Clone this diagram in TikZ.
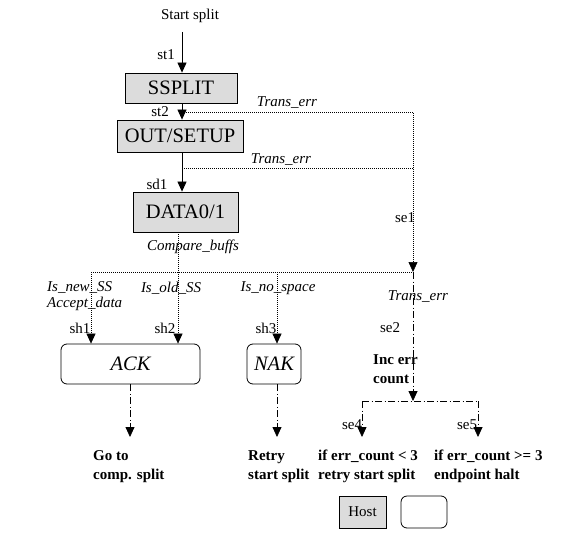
\documentclass[tikz,border=0pt]{standalone}
\usepackage{fontspec}
\setmainfont{Liberation Serif}
\usetikzlibrary{arrows.meta}
\definecolor{boxgray}{RGB}{220,220,220}
\begin{document}
\begin{tikzpicture}[x=1pt,y=-1pt,
 lab/.style={font=\fontsize{15}{19}\selectfont, inner sep=0pt},
 ilab/.style={inner sep=0pt, font=\fontsize{15}{16}\selectfont\itshape},
 blab/.style={inner sep=0pt, font=\fontsize{15}{19}\selectfont\bfseries, align=left},
 sbox/.style={draw, fill=boxgray, line width=0.8pt, font=\fontsize{20.5}{24}\selectfont, inner sep=0pt},
 rbox/.style={draw, rounded corners=6pt, line width=0.8pt, font=\fontsize{20.5}{24}\selectfont\itshape, inner sep=0pt},
 tip/.style={-{Triangle[width=9pt,length=10pt]}},
 solidl/.style={line width=0.8pt},
 dotl/.style={line width=0.6pt, dash pattern=on 0.8pt off 1.2pt},
 dashdot/.style={line width=0.8pt, dash pattern=on 7pt off 2.5pt on 1pt off 2.5pt},
]
\useasboundingbox (0,0) rectangle (577,534);

% nodes
\node[lab] (start) at (190,16) {Start split};
\node[sbox, minimum width=112pt, minimum height=30pt] (ssplit) at (181,88) {SSPLIT};
\node[sbox, minimum width=126pt, minimum height=32pt] (out) at (180,136) {OUT/SETUP};
\node[sbox, minimum width=105pt, minimum height=40pt] (data) at (185.5,212) {DATA0/1};
\node[rbox, minimum width=139pt, minimum height=40pt] (ack) at (130.5,364) {ACK};
\node[rbox, minimum width=54pt, minimum height=40pt] (nak) at (274,364) {NAK};

% coordinates
\coordinate (cx) at (182,0);
\coordinate (t1) at (182,112);
\coordinate (t2) at (182,168);
\coordinate (e1) at (413,112);
\coordinate (e2) at (413,168);
\coordinate (j) at (413,272);
\coordinate (h1) at (91,272);
\coordinate (h2) at (178,272);
\coordinate (h3) at (277,272);
\coordinate (k) at (413,401);
\coordinate (k1) at (362,401);
\coordinate (k2) at (478,401);
\coordinate (a1) at (130,437);
\coordinate (a2) at (277,437);
\coordinate (a4) at (362,437);
\coordinate (a5) at (478,437);

% solid arrows
\draw[solidl, tip, shorten <=9pt] (start.south -| cx) -- (ssplit.north -| cx);
\draw[solidl, tip] (ssplit.south -| cx) -- (out.north -| cx);
\draw[solidl, tip] (out.south -| cx) -- (data.north -| cx);

% dotted
\draw[dotl, tip] (t1) -- (e1) -- (j);
\draw[dotl] (t2) -- (e2);
\draw[dotl] (h1) -- (j);
\draw[dotl, tip] (h1) -- (ack.north -| h1);
\draw[dotl, tip] (data.south -| h2) -- (ack.north -| h2);
\draw[dotl, tip] (h3) -- (nak.north -| h3);

% dash-dot
\draw[dashdot, tip] (j) -- (k);
\draw[dashdot] (k1) -- (k2);
\draw[dashdot, tip] (k1) -- (a4);
\draw[dashdot, tip] (k2) -- (a5);
\draw[dashdot, tip] (ack.south -| a1) -- (a1);
\draw[dashdot, tip] (nak.south -| a2) -- (a2);

% labels
\node[lab] (st1) at (166,55) {st1};
\node[lab] (st2) at (160,112) {st2};
\node[lab] (sd1) at (157,184) {sd1};
\node[ilab] (te1) at (287,103) {Trans\_err};
\node[ilab] (te2) at (281,160) {Trans\_err};
\node[lab] (se1) at (405,218) {se1};
\node[ilab] (cb) at (193,247) {Compare\_buffs};
\node[ilab, align=left, anchor=west] (isnew) at (47,296) {Is\_new\_SS\\Accept\_data};
\node[ilab] (isold) at (171,288) {Is\_old\_SS};
\node[ilab] (isno) at (278,288) {Is\_no\_space};
\node[ilab] (te3) at (418,297) {Trans\_err};
\node[lab] (sh1) at (80,328) {sh1};
\node[lab] (sh2) at (165,328) {sh2};
\node[lab] (sh3) at (266,328) {sh3};
\node[lab] (se2) at (390,328) {se2};
\node[lab] (se4) at (352,425) {se4};
\node[lab] (se5) at (467,425) {se5};

\node[blab, anchor=west] (inc) at (373,369.5) {Inc err\\count};
\node[blab, anchor=west] (goto) at (93,466.5) {Go to\\comp. split};
\node[blab, anchor=west] (retry) at (248,466.5) {Retry\\start split};
\node[blab, anchor=west] (ifl) at (318,466.5) {if err\_count < 3\\retry start split};
\node[blab, anchor=west] (ifg) at (434,466.5) {if err\_count >= 3\\endpoint halt};

% legend
\node[draw, fill=boxgray, line width=0.8pt, minimum width=47pt, minimum height=32pt, lab] (host) at (362.5,512) {Host};
\node[draw, rounded corners=6pt, line width=0.8pt, minimum width=46pt, minimum height=32pt] (dev) at (424,512) {};
\end{tikzpicture}
\end{document}
